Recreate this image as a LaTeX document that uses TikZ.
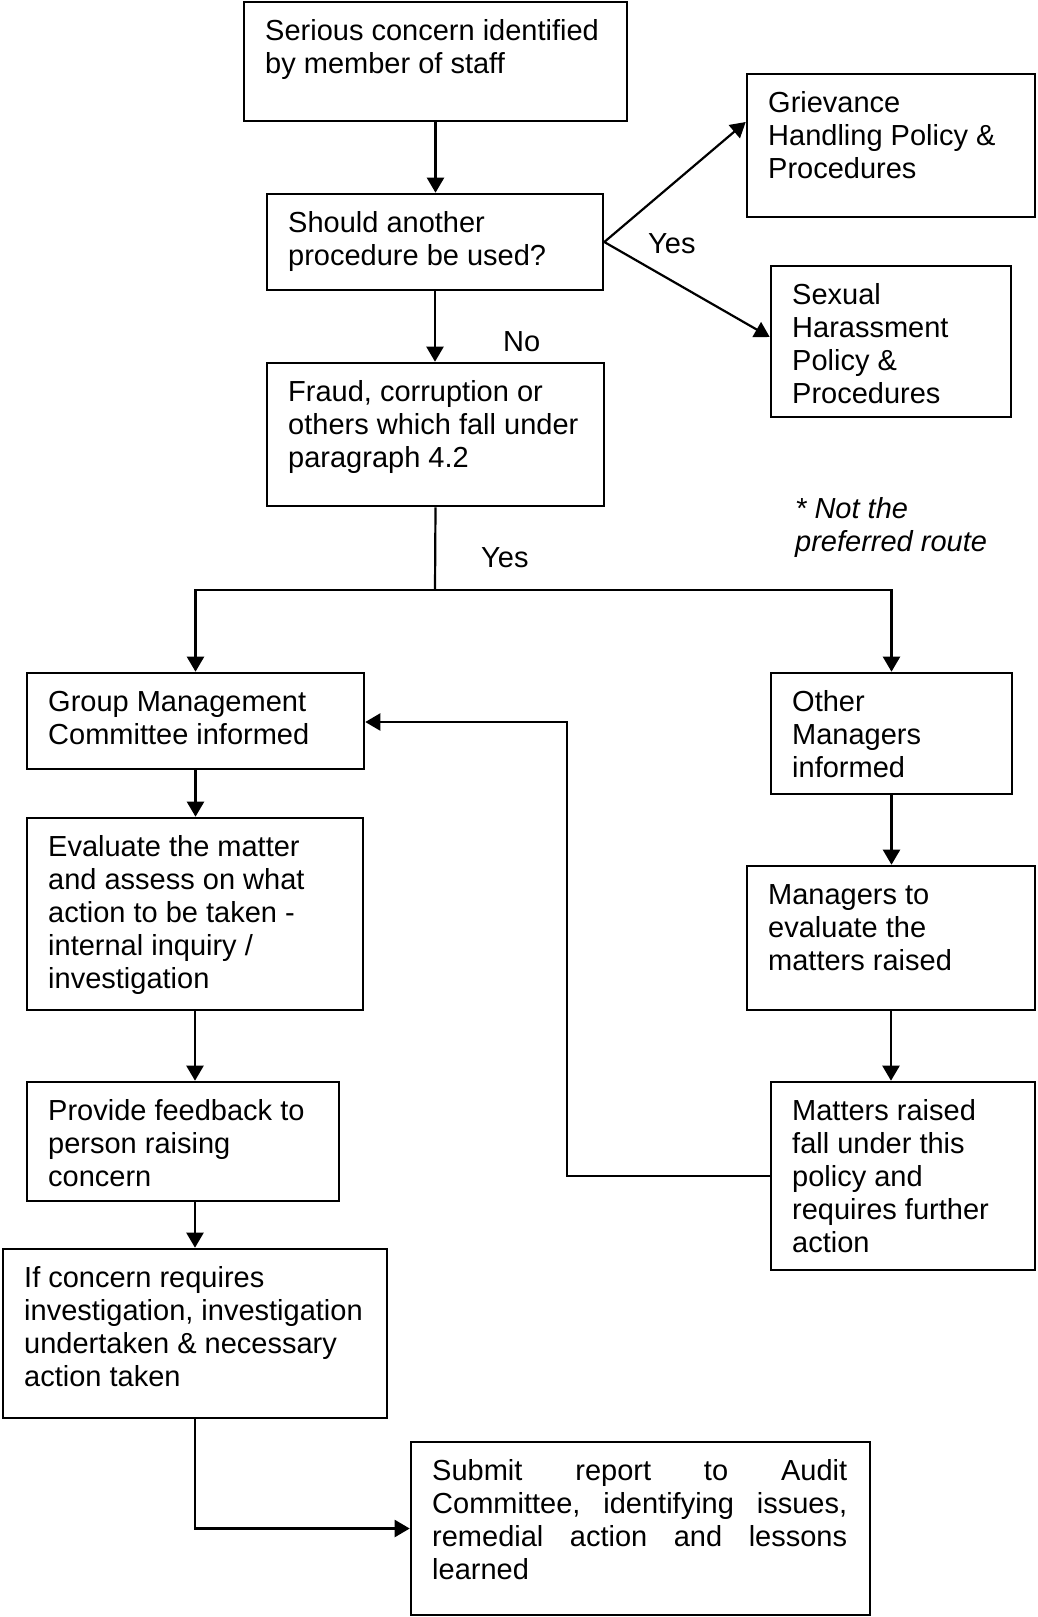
\documentclass[tikz,border=0pt]{standalone}
\usepackage{fontspec}
\setmainfont{Liberation Sans}
\usetikzlibrary{arrows.meta}
\newcommand{\bxt}[2]{\parbox[t]{#1}{\raggedright #2}}
\begin{document}
\begin{tikzpicture}[x=1pt,y=-1pt,
  box/.style={draw, line width=2.6pt, inner sep=0pt},
  conn/.style={line width=2.2pt},
  arr/.style={conn, -{Triangle[width=17pt,length=15pt]}},
  txt/.style={anchor=base west, inner sep=0pt, font=\fontsize{29}{33}\selectfont},
  note/.style={anchor=base west, inner sep=0pt, font=\fontsize{29}{33}\selectfont\itshape},
]
\useasboundingbox[fill=white] (0,0) rectangle (1037,1617);

% boxes
\node[box, minimum width=383pt, minimum height=119pt] (b1) at (435.5,61.5) {};
\node[box, minimum width=336pt, minimum height=96pt] (b2) at (435,242) {};
\node[box, minimum width=337pt, minimum height=143pt] (b3) at (435.5,434.5) {};
\node[box, minimum width=288pt, minimum height=143pt] (griev) at (891,145.5) {};
\node[box, minimum width=240pt, minimum height=151pt] (sex) at (891,341.5) {};
\node[box, minimum width=337pt, minimum height=96pt] (gmc) at (195.5,721) {};
\node[box, minimum width=241pt, minimum height=121pt] (other) at (891.5,733.5) {};
\node[box, minimum width=336pt, minimum height=192pt] (eval) at (195,914) {};
\node[box, minimum width=288pt, minimum height=144pt] (mgr) at (891,938) {};
\node[box, minimum width=264pt, minimum height=188pt] (matters) at (903,1176) {};
\node[box, minimum width=312pt, minimum height=119pt] (fb) at (183,1141.5) {};
\node[box, minimum width=384pt, minimum height=169pt] (ifc) at (195,1333.5) {};
\node[box, minimum width=459pt, minimum height=173pt] (sub) at (640.5,1528.5) {};

% texts
\node[txt] (t1) at (265,40.5) {\bxt{360pt}{Serious concern identified\\by member of staff}};
\node[txt] (t2) at (288,232.5) {\bxt{310pt}{Should another\\procedure be used?}};
\node[txt] (t3) at (288,401.5) {\bxt{310pt}{Fraud, corruption or\\others which fall under\\paragraph 4.2}};
\node[txt] (tg) at (768,112.5) {\bxt{265pt}{Grievance\\Handling Policy \&\\Procedures}};
\node[txt] (ts) at (792,304.5) {\bxt{215pt}{Sexual\\Harassment\\Policy \&\\Procedures}};
\node[txt] (tgmc) at (48,711.5) {\bxt{310pt}{Group Management\\Committee informed}};
\node[txt] (to) at (792,711.5) {\bxt{215pt}{Other\\Managers\\informed}};
\node[txt] (te) at (48,856.5) {\bxt{310pt}{Evaluate the matter\\and assess on what\\action to be taken -\\internal inquiry /\\investigation}};
\node[txt] (tm) at (768,904.5) {\bxt{265pt}{Managers to\\evaluate the\\matters raised}};
\node[txt] (tmr) at (792,1120.5) {\bxt{240pt}{Matters raised\\fall under this\\policy and\\requires further\\action}};
\node[txt] (tf) at (48,1120.5) {\bxt{290pt}{Provide feedback to\\person raising\\concern}};
\node[txt] (ti) at (24,1287.5) {\bxt{360pt}{If concern requires\\investigation, investigation\\undertaken \& necessary\\action taken}};
\node[txt] (tsub) at (432,1480.5) {\parbox[t]{415pt}{Submit\hfill report\hfill to\hfill Audit\\Committee,\hfill identifying\hfill issues,\\remedial\hfill action\hfill and\hfill lessons\\learned}};

% labels
\node[txt] (yes1) at (648,253) {Yes};
\node[txt] (no) at (503,351) {No};
\node[txt] (yes2) at (481,567) {Yes};
\node[note] (nt) at (795,518) {\bxt{230pt}{* Not the\\preferred route}};

% connectors
\draw[arr] (b1.south) -- (b1.south |- b2.north);
\draw[arr] (b2.south) -- (b2.south |- b3.north);
\draw[arr] (b2.east) -- ([yshift=23.5pt]griev.west);
\draw[arr] (b2.east) -- ([yshift=4.5pt]sex.west);
\coordinate (split) at (435,590);
\draw[conn] (b3.south) -- (split);
\draw[arr] (split) -| (gmc.north);
\draw[arr] (split) -| (other.north);
\draw[arr] (gmc.south) -- (gmc.south |- eval.north);
\draw[arr] (eval.south) -- (eval.south |- fb.north);
\draw[arr] (eval.south |- fb.south) -- (eval.south |- ifc.north);
\draw[arr] (ifc.south) |- (sub.west);
\draw[arr] (other.south) -- (other.south |- mgr.north);
\draw[arr] (mgr.south) -- (mgr.south |- matters.north);
\coordinate (bend) at (567,1176);
\draw[arr] (matters.west) -- (bend) |- ([yshift=-1pt]gmc.east);
\end{tikzpicture}
\end{document}
